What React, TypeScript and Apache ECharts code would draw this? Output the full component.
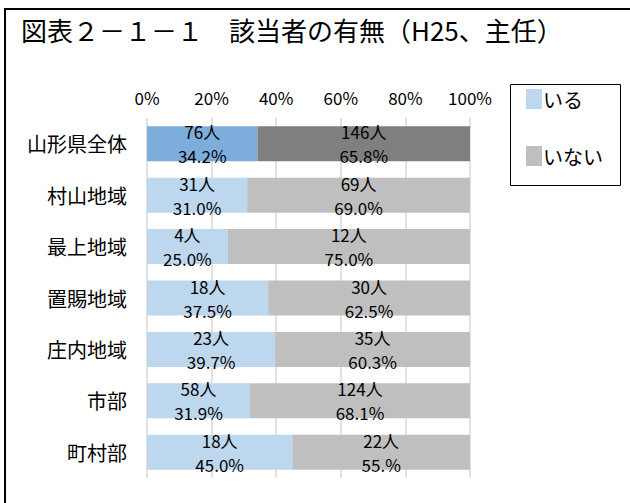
import React, { useEffect, useRef } from "react";
import * as echarts from "echarts";

const categories = ["山形県全体", "村山地域", "最上地域", "置賜地域", "庄内地域", "市部", "町村部"];
const yesCounts = [76, 31, 4, 18, 23, 58, 18];
const yesPct = [34.2, 31.0, 25.0, 37.5, 39.7, 31.9, 45.0];
const yesPctLabels = ["34.2%", "31.0%", "25.0%", "37.5%", "39.7%", "31.9%", "45.0%"];
const noCounts = [146, 69, 12, 30, 35, 124, 22];
const noPct = [65.8, 69.0, 75.0, 62.5, 60.3, 68.1, 55.0];
const noPctLabels = ["65.8%", "69.0%", "75.0%", "62.5%", "60.3%", "68.1%", "55.%"];
const seriesNames = ["いる", "いない"];
const xTicks = [0, 20, 40, 60, 80, 100];

const TITLE = "図表２－１－１　該当者の有無（H25、主任）";
const CJK = "'Noto Sans CJK JP', 'Noto Sans', sans-serif";

export default function App() {
  const ref = useRef<HTMLDivElement>(null);
  useEffect(() => {
    if (!ref.current) return;
    const chart = echarts.init(ref.current, null, { renderer: "svg" });
    const yesColor = "#BDD7EE";
    const noColor = "#BFBFBF";
    const yesHi = "#7DAEDB";
    const noHi = "#7F7F7F";
    const labelStyle = {
      show: true,
      position: "inside" as const,
      color: "#000",
      fontSize: 17,
      fontFamily: CJK,
      lineHeight: 24,
    };
    chart.setOption({
      animation: false,
      backgroundColor: "#fff",
      grid: { left: 147, right: 160, top: 118, bottom: 25, containLabel: false },
      xAxis: {
        type: "value",
        position: "top",
        min: xTicks[0],
        max: xTicks[xTicks.length - 1],
        interval: 20,
        axisLine: { show: false },
        axisTick: { show: false },
        splitLine: { show: true, lineStyle: { color: "#D9D9D9", width: 1.5 } },
        axisLabel: {
          formatter: "{value}%",
          color: "#000",
          fontSize: 17,
          fontFamily: CJK,
          margin: 12,
        },
      },
      yAxis: {
        type: "category",
        inverse: true,
        data: categories,
        axisLine: { show: false },
        axisTick: { show: false },
        axisLabel: { color: "#000", fontSize: 20, fontFamily: CJK, margin: 20 },
      },
      legend: {
        orient: "vertical",
        left: 521,
        top: 84,
        itemWidth: 16,
        itemHeight: 20,
        itemGap: 37,
        icon: "rect",
        data: seriesNames,
        textStyle: { color: "#000", fontSize: 20, fontFamily: CJK, padding: [10, 0, 0, -4] },
      },
      series: [
        {
          name: seriesNames[0],
          type: "bar",
          stack: "total",
          barCategoryGap: "32%",
          itemStyle: { color: yesColor },
          label: {
            ...labelStyle,
            formatter: (p: any) => `${yesCounts[p.dataIndex]}人\n${yesPctLabels[p.dataIndex]}`,
          },
          data: yesPct.map((v, i) => (i === 0 ? { value: v, itemStyle: { color: yesHi } } : v)),
        },
        {
          name: seriesNames[1],
          type: "bar",
          stack: "total",
          barCategoryGap: "32%",
          itemStyle: { color: noColor },
          label: {
            ...labelStyle,
            formatter: (p: any) => `${noCounts[p.dataIndex]}人\n${noPctLabels[p.dataIndex]}`,
          },
          data: noPct.map((v, i) => (i === 0 ? { value: v, itemStyle: { color: noHi } } : v)),
        },
      ],
      graphic: [
        {
          type: "rect",
          shape: { x: 5, y: 9, width: 640, height: 520 },
          style: { fill: "none", stroke: "#000", lineWidth: 2 },
          silent: true,
        },
        {
          type: "text",
          left: 21,
          top: 16,
          style: { text: TITLE, fill: "#000", fontSize: 26, fontFamily: CJK },
        },
        {
          type: "rect",
          shape: { x: 510.5, y: 84.5, width: 110, height: 101 },
          style: { fill: "none", stroke: "#000", lineWidth: 1 },
          silent: true,
          z: -1,
        },
      ],
    });
    return () => chart.dispose();
  }, []);
  return (
    <div
      ref={ref}
      style={{ position: "absolute", left: 0, top: 0, width: 630, height: 503 }}
    />
  );
}
